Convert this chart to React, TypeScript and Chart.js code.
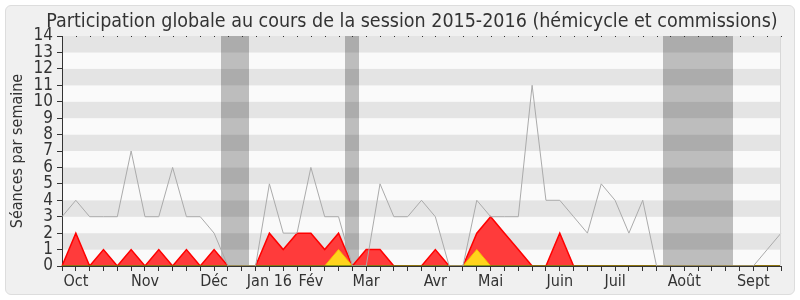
import React, { useEffect, useRef } from "react";
import { Chart, registerables } from "chart.js";

Chart.register(...registerables);

// Weekly categories (53 weeks, Sept 2015 -> Sept 2016), month label on the relevant week
const weekLabels = [
  "", "Oct", "", "", "", "", "Nov", "", "", "",
  "", "Déc", "", "", "", "Jan 16", "", "", "Fév", "",
  "", "", "Mar", "", "", "", "", "Avr", "", "",
  "", "Mai", "", "", "", "", "Juin", "", "", "",
  "Juil", "", "", "", "", "Août", "", "", "", "",
  "Sept", "", "",
];

// Total sessions per week (grey line)
const seancesTotales = [
  3, 4, 3, 3, 3, 7, 3, 3, 6, 3,
  3, 2, 0, 0, 0, 5, 2, 2, 6, 3,
  3, 0, 0, 5, 3, 3, 4, 3, 0, 0,
  4, 3, 3, 3, 11, 4, 4, 3, 2, 5,
  4, 2, 4, 0, 0, 0, 0, 0, 0, 0,
  0, 1, 2,
];

// Presence (red area)
const presences = [
  0, 2, 0, 1, 0, 1, 0, 1, 0, 1,
  0, 1, 0, 0, 0, 2, 1, 2, 2, 1,
  2, 0, 1, 1, 0, 0, 0, 1, 0, 0,
  2, 3, 2, 1, 0, 0, 2, 0, 0, 0,
  0, 0, 0, 0, 0, 0, 0, 0, 0, 0,
  0, 0, 0,
];

// Yellow area
const participations = [
  0, 0, 0, 0, 0, 0, 0, 0, 0, 0,
  0, 0, 0, 0, 0, 0, 0, 0, 0, 0,
  1, 0, 0, 0, 0, 0, 0, 0, 0, 0,
  1, 0, 0, 0, 0, 0, 0, 0, 0, 0,
  0, 0, 0, 0, 0, 0, 0, 0, 0, 0,
  0, 0, 0,
];

// Green line (all zero)
const interventions = [
  0, 0, 0, 0, 0, 0, 0, 0, 0, 0,
  0, 0, 0, 0, 0, 0, 0, 0, 0, 0,
  0, 0, 0, 0, 0, 0, 0, 0, 0, 0,
  0, 0, 0, 0, 0, 0, 0, 0, 0, 0,
  0, 0, 0, 0, 0, 0, 0, 0, 0, 0,
  0, 0, 0,
];

// Parliamentary holiday weeks (grey bands)
const vacances = [
  0, 0, 0, 0, 0, 0, 0, 0, 0, 0,
  0, 0, 1, 1, 0, 0, 0, 0, 0, 0,
  0, 1, 0, 0, 0, 0, 0, 0, 0, 0,
  0, 0, 0, 0, 0, 0, 0, 0, 0, 0,
  0, 0, 0, 0, 1, 1, 1, 1, 1, 0,
  0, 0, 0,
];

const yTickValues = [0, 1, 2, 3, 4, 5, 6, 7, 8, 9, 10, 11, 12, 13, 14];
const yMax = 14;

const FONT = "'DejaVu Sans Condensed', 'DejaVu Sans', sans-serif";
const TEXT = "#333333";

const backdropPlugin = {
  id: "backdrop",
  beforeDraw(chart: any) {
    const { ctx, chartArea, scales } = chart;
    const y = scales.y;
    ctx.save();
    for (let k = 0; k < yTickValues.length - 1; k++) {
      const top = y.getPixelForValue(yTickValues[k + 1]);
      const bottom = y.getPixelForValue(yTickValues[k]);
      ctx.fillStyle = k % 2 === 1 ? "#e4e4e4" : "#fafafa";
      ctx.fillRect(chartArea.left, top, chartArea.right - chartArea.left, bottom - top);
    }
    ctx.restore();
  },
  beforeDatasetsDraw(chart: any) {
    const { ctx, scales } = chart;
    const x = scales.x;
    const y = scales.y;
    const half = (x.getPixelForValue(1) - x.getPixelForValue(0)) / 2;
    const top = Math.round(y.getPixelForValue(yMax));
    const bottom = Math.round(y.getPixelForValue(0));
    ctx.save();
    ctx.fillStyle = "rgba(0,0,0,0.245)";
    let i = 0;
    while (i < vacances.length) {
      if (vacances[i]) {
        let j = i;
        while (j + 1 < vacances.length && vacances[j + 1]) j++;
        const l = Math.round(x.getPixelForValue(i) - half);
        const r = Math.round(x.getPixelForValue(j) + half);
        ctx.fillRect(l, top, r - l, bottom - top);
        i = j + 1;
      } else {
        i++;
      }
    }
    ctx.restore();
  },
  afterDraw(chart: any) {
    const { ctx, chartArea, scales } = chart;
    const x = scales.x;
    ctx.save();
    ctx.fillStyle = "#333333";
    for (let i = 0; i < x.ticks.length; i++) {
      const px = Math.round(x.getPixelForTick(i));
      ctx.fillRect(px, Math.round(chartArea.top), 1, 1);
    }
    ctx.fillStyle = "#d8d8d8";
    ctx.fillRect(Math.round(chartArea.right) - 1, chartArea.top, 1, chartArea.bottom - chartArea.top);
    ctx.restore();
  },
};

export default function App() {
  const canvasRef = useRef<HTMLCanvasElement | null>(null);

  useEffect(() => {
    if (!canvasRef.current) return;
    Chart.defaults.font.family = FONT;
    Chart.defaults.color = TEXT;
    const chart = new Chart(canvasRef.current, {
      type: "line",
      data: {
        labels: weekLabels,
        datasets: [
          {
            label: "Séances",
            data: seancesTotales,
            borderColor: "#aaaaaa",
            borderWidth: 1,
            pointRadius: 0,
            fill: false,
            tension: 0,
            order: 1,
          },
          {
            label: "Interventions",
            data: interventions,
            borderColor: "#1e6400",
            borderWidth: 1,
            pointRadius: 0,
            fill: false,
            tension: 0,
            order: 2,
          },
          {
            label: "Participations",
            data: participations,
            borderColor: "#f5c400",
            backgroundColor: "#ffd41c",
            borderWidth: 1,
            pointRadius: 0,
            fill: "origin",
            tension: 0,
            order: 3,
          },
          {
            label: "Présences",
            data: presences,
            borderColor: "#ff0000",
            backgroundColor: "#ff3b3b",
            borderWidth: 1.5,
            pointRadius: 0,
            fill: "origin",
            tension: 0,
            order: 4,
          },
        ],
      },
      options: {
        animation: false,
        responsive: false,
        devicePixelRatio: 1,
        events: [],
        layout: { padding: { left: 8, right: -16, top: 0, bottom: 0 } },
        plugins: {
          legend: { display: false },
          tooltip: { enabled: false },
          title: {
            display: true,
            text: "Participation globale au cours de la session 2015-2016 (hémicycle et commissions)",
            color: TEXT,
            font: { family: FONT, size: 19.5, weight: "normal" },
            padding: { top: 10, bottom: 2.6 },
          },
        },
        scales: {
          x: {
            type: "category",
            offset: false,
            grid: {
              display: true,
              drawOnChartArea: false,
              drawTicks: true,
              tickLength: 5,
              color: "#333333",
            },
            border: { display: true, color: "#333333" },
            ticks: {
              autoSkip: false,
              maxRotation: 0,
              minRotation: 0,
              padding: 1,
              color: TEXT,
              font: { family: FONT, size: 16 },
            },
            afterFit: (scale: any) => {
              scale.height = 34;
            },
          },
          y: {
            type: "linear",
            position: "left",
            min: 0,
            max: yMax,
            grid: {
              display: true,
              drawOnChartArea: false,
              drawTicks: true,
              tickLength: 5,
              color: "#333333",
            },
            border: { display: true, color: "#333333" },
            ticks: {
              autoSkip: false,
              padding: 4,
              color: TEXT,
              font: { family: FONT, size: 17, lineHeight: 1 },
            },
            afterBuildTicks: (scale: any) => {
              scale.ticks = yTickValues.map((v) => ({ value: v }));
            },
            title: {
              display: true,
              text: "Séances par semaine",
              color: TEXT,
              font: { family: FONT, size: 16 },
              padding: 0,
            },
            afterFit: (scale: any) => {
              scale.width = 54;
            },
          },
          yRight: {
            type: "linear",
            position: "right",
            display: true,
            grid: { display: false },
            border: { display: false },
            ticks: { display: false },
            afterFit: (scale: any) => {
              scale.width = 35;
            },
          },
        },
      },
      plugins: [backdropPlugin],
    } as any);
    return () => chart.destroy();
  }, []);

  return (
    <div style={{ position: "absolute", left: 0, top: 0, width: 800, height: 300 }}>
      <div
        style={{
          position: "absolute",
          left: 5,
          top: 5,
          width: 790,
          height: 290,
          boxSizing: "border-box",
          background: "#f0f0f0",
          border: "1px solid #dddddd",
          borderRadius: 6,
        }}
      />
      <canvas
        ref={canvasRef}
        width={800}
        height={300}
        style={{ position: "absolute", left: 0, top: 0, width: 800, height: 300 }}
      />
    </div>
  );
}
